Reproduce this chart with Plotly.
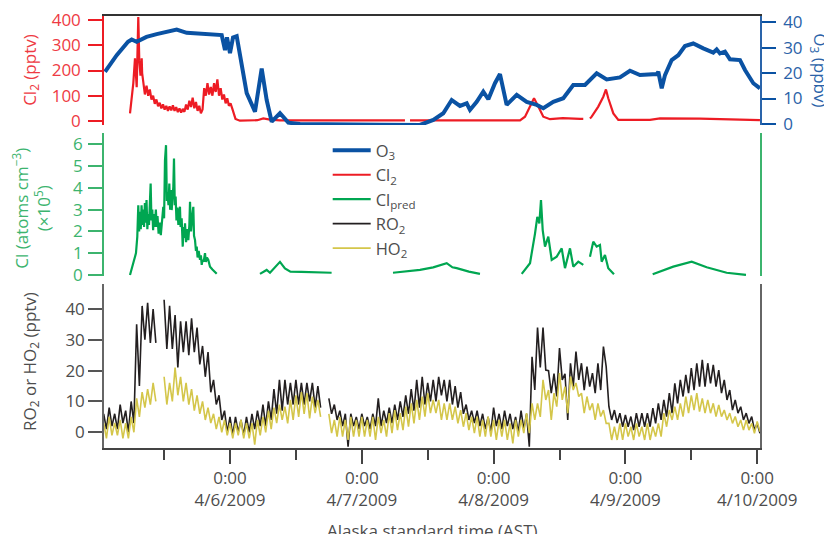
import pandas as pd
import plotly.graph_objects as go

# ---------------- data (hours since 2009-04-05 00:00 AST) ----------------
o3_h = [1.24, 3.37, 5.43, 6.10, 7.0, 8.8, 10.65, 14.29, 16.12, 18.54, 20.90, 22.49, 23.09, 23.45, 24.0,
        24.55, 25.22, 26.13, 27.04, 28.55, 29.77, 30.68, 31.59, 33.10, 34.62, 36.75, 42.21, 51.31, 58.60,
        61.02, 62.84, 64.37, 65.88, 67.10, 67.70, 68.92, 70.12, 71.04, 72.25, 73.16, 74.38, 76.21, 78.03,
        79.85, 81.05, 82.87, 84.69, 86.51, 88.64, 90.77, 92.59, 95.01, 96.83, 98.65, 101.70, 101.99,
        102.61, 103.21, 104.43, 105.63, 106.85, 108.36, 110.18, 112.00, 112.62, 113.22, 114.13, 115.04,
        116.87, 117.78, 119.29, 120.50]
o3_v = [20.5, 27, 32.3, 33.2, 32.3, 34.2, 35.3, 37.1, 35.8, 35.6, 35.3, 34.9, 29, 34, 27.8,
        34, 34.5, 22.5, 12.1, 4.8, 21.8, 9.4, 0.9, 4.2, 0.5, 0, -0.2, -0.3, -0.4,
        1.6, 4.2, 9.4, 7.1, 8.1, 5.5, 8.7, 12.7, 9.7, 16, 19.6, 7.5, 11.4, 8.7,
        7.5, 6.2, 8.7, 10.1, 15.3, 15.3, 19.9, 17.5, 18.3, 20.9, 19.2, 19.6, 20.5,
        14, 19.2, 25.1, 27, 30.6, 31.6, 29.7, 28, 29.3, 27.7, 28.4, 25.4,
        25.1, 21.2, 16, 14]

cl2_h = [5.79, 6.39, 6.70, 7.01, 7.30, 7.48, 7.7, 7.92, 8.0, 8.2, 8.5, 8.8, 9.1, 9.4, 9.7, 10.0, 10.3,
         10.6, 10.9, 11.2, 11.5, 11.8, 12.1, 12.4, 12.7, 13.0, 13.3, 13.6, 13.9, 14.2, 14.5, 14.8, 15.1,
         15.4, 15.7, 16.0, 16.3, 16.6, 16.9, 17.2, 17.5, 17.8, 18.1, 18.4, 18.7, 19.0, 19.3, 19.6, 19.9,
         20.2, 20.5, 20.8, 21.1, 21.4, 21.7, 22.0, 22.3, 22.6, 22.9, 23.2, 23.5, 23.8, 24.1, 24.4, 24.7,
         25.0, 25.8, 27.6, 29.0, 30.06, 31.28, 33.1, 40.0, 50.0, 55.86, 56.3, 56.78, 65.0, 70.0, 76.81,
         77.72, 78.63, 79.36, 80.14, 81.05, 82.27, 84.60, 87.73, 88.33, 89.0, 89.55, 89.86, 91.06, 91.98,
         92.46, 92.88, 93.80, 94.71, 100.48, 102.30, 109.58, 120.50]
cl2_v = [30, 149, 248, 134, 412, 241, 180, 248, 190, 162, 105, 140, 100, 125, 85, 100, 68,
         85, 58, 72, 50, 66, 45, 60, 40, 58, 42, 62, 40, 55, 35, 50, 33,
         48, 36, 65, 45, 80, 55, 92, 50, 75, 40, 60, 30, 45, 130, 100, 150,
         105, 135, 100, 150, 115, 165, 100, 130, 85, 105, 70, 90, 60, 70, 50, 25,
         8, 1, 1, 3, 10, 5, 2, 1, 2, 2, None, 2, 2, 3, 2,
         17, 57, 90, 57, 17, 7, 11, 8, 8, None, 10, 17, 57, 96,
         125, 90, 30, 4, 4, 10, 9, 3]

cl_h = [5.79, 6.39, 6.88, 7.12, 7.3, 7.45, 7.6, 7.75, 7.9, 8.05, 8.2, 8.35, 8.5, 8.65, 8.8, 8.95, 9.1,
        9.25, 9.4, 9.55, 9.7, 9.85, 10.0, 10.15, 10.3, 10.5, 10.65, 10.8, 11.0, 11.25, 11.4, 11.6, 11.85,
        12.0, 12.16, 12.35, 12.5, 12.6, 12.8, 12.95, 13.1, 13.25, 13.38, 13.55, 13.68, 13.80, 13.95,
        14.1, 14.25, 14.4, 14.6, 14.75, 14.89, 15.0, 15.2, 15.39, 15.55, 15.7, 15.81, 16.0, 16.2, 16.41,
        16.6, 16.72, 16.9, 17.1, 17.32, 17.45, 17.63, 17.8, 17.94, 18.1, 18.3, 18.54, 18.7, 18.85, 19.0,
        19.2, 19.45, 19.6, 19.8, 20.05, 20.2, 20.36, 20.8, 21.2, 21.58, 25.0, 29.46, 30.68, 31.28, 33.10,
        34.0, 35.0, 37.0, 40.0, 42.5, 45.0, 53.68, 56.0, 58.6, 61.0, 62.5, 63.46, 64.5, 65.28, 67.5,
        69.52, 73.0, 77.12, 78.63, 79.54, 79.96, 80.33, 80.63, 80.94, 81.36, 81.96, 82.58, 83.49, 84.40,
        85.00, 85.91, 86.51, 87.42, 88.33, 89.0, 89.55, 90.15, 90.77, 91.37, 91.68, 92.28, 92.88, 93.92,
        97.0, 100.97, 104.72, 108.07, 110.80, 114.44, 117.96]
cl_v = [0, 0.54, 1.0, 1.76, 3.2, 2.0, 2.9, 2.1, 3.2, 2.3, 3.0, 2.2, 3.3, 2.4, 3.44, 2.1, 2.8,
        2.3, 3.6, 4.2, 2.5, 3.0, 2.06, 2.8, 2.2, 3.0, 2.2, 2.7, 1.9, 2.4, 1.83, 2.6, 3.13,
        2.6, 5.27, 5.96, 3.4, 3.8, 3.2, 4.2, 3.0, 3.9, 2.98, 3.5, 4.05, 5.35, 3.2,
        3.6, 2.5, 3.1, 2.3, 2.9, 3.13, 2.2, 2.6, 1.3, 2.2, 1.7, 2.37, 1.5, 2.1, 1.6,
        2.3, 3.36, 2.0, 2.6, 3.13, 1.8, 1.6, 1.1, 1.3, 0.8, 1.1, 0.69, 0.9, 0.46, 0.7,
        0.6, 1.0, 0.6, 0.8, 0.69, 0.5, 0.38, 0.25, 0.12, 0.05, None, 0.05, 0.23, 0.1, 0.6,
        0.3, 0.15, 0.14, 0.12, 0.1, None, 0.1, 0.15, 0.23, 0.35, 0.45, 0.54, 0.35, 0.31, 0.15,
        0.05, None, 0.05, 0.54, 1.9, 2.67, 2.37, 3.44, 2.06, 1.3, 1.76, 0.69, 0.84, 1.22,
        0.31, 1.22, 0.38, 0.61, 0.46, None, 0.84, 1.53, 1.3, 1.38, 0.61, 0.92, 0.31, 0.03,
        None, 0.03, 0.38, 0.61, 0.35, 0.1, 0.0]

# RO2 / HO2: hourly read-off of the upper and lower edge of the noisy band (None = data gap)
band_h = list(range(1, 121))
ro2_hi = [6, 8, 6, 9, 7, 10, 35, 41, 42, 40, None, 43, 41, 38, 36, 36, 37, 34, 28, 26,
          17, 12, 7, 5, 5, 4, 5, 6, 7, 9, 10, 14, 17, 17, 16, 17, 16, 16, 16, 15,
          None, 11, 9, 7, 6, 6, 5, 6, 5, 6, 11, 7, 8, 9, 10, 12, 14, 17, 18, 16,
          17, 18, 17, 17, 15, 13, 9, 7, 7, 6, 5, 8, 6, 7, 6, 5, 7, 6, 24.5, 34,
          34, 20, 19, 27.3, 19, 22.4, 26.2, 22.4, 21.3, 19.2, 22.4, 27.8, 8.3, 7.2, 6.2, 5.6, 5.1, 6.2, 6.2, 6.2,
          7.8, 9.4, 10.5, 12.7, 15.9, 17, 18.6, 20.8, 22.4, 23.5, 22.4, 21.9, 20.2, 17, 13.7, 10.5, 8.3, 6.2, 5.1, 2.9]
ro2_lo = [1, 2, 1, 3, 0, 3, 15, 30, 29, 29, None, 27, 27, 21, 26, 25, 26, 22, 18, 13,
          9, 4, 0, -1, 0, -1, 0, 1, 2, 2, 4, 6, 7, 9, 9, 9, 9, 10, 8, 8,
          None, 6, 4, 2, -4.7, 2, 1, 2, 1, 2, 2, 3, 3, 4, 5, 6, 7, 8, 9, 10,
          10, 12, 10, 9, 8, 6, 4, 3, 2, 1, 0, 2, 1, 2, 1, 0, 1, -4.7, 13.7, 21,
          20.2, 12.7, 11.6, 17, 4, 14.8, 17, 13.7, 14.8, 12.7, 13.7, 21.3, 4, 3, 1.8, 1.8, 0.7, 1.8, 1.8, 1.8,
          2.9, 4, 5.1, 6.2, 9.4, 11.6, 12.7, 13.7, 14.8, 14.8, 15.9, 14.8, 12.7, 10.5, 7.2, 6.2, 4, 2.9, 0.7, -0.3]
ho2_hi = [3, 5, 3, 4, 3, 5, 11, 13, 14, 16, None, 18, 16, 21, 18, 16, 14, 12, 10, 8,
          6, 5, 4, 3, 3, 4, 3, 3, 4, 5, 7, 8, 9, 8.3, 10.5, 12, 13, 12.7, 11.6, 10.5,
          None, 6, 4, 5, 4, 5, 4, 5, 4, 5, 5, 4, 6.2, 7.2, 6.2, 8.3, 9.4, 10.5, 11.6, 12.7,
          10.5, 10.5, 9.4, 9.4, 8.3, 7.2, 6.2, 5.1, 5.1, 4, 5.1, 4, 4, 4, 2.9, 4, 4, 6.2, 9.4, 9.4,
          17, 13.7, 12.7, 19.2, 14.8, 18.1, 16, 12.7, 11.6, 9.4, 9.4, 7.2, 2.9, 1.8, 2.9, 2.9, 1.8, 2.9, 1.8, 2.9,
          1.8, 2.9, 6.2, 7.2, 8.3, 9.4, 11.6, 12, 12.7, 11, 10.5, 9.4, 8.9, 7.2, 6.2, 5.1, 4, 4, 2.9, 3.5]
ho2_lo = [-2, -1, -1, -2, -2, 0, 5, 8, 9, 10, None, 9, 10, 12, 10, 9, 7, 6, 4, 3,
          1, 0, -1, -2, -1, -2, -2, -4, -1, 0, 1, 3, 4, 2.9, 4, 5, 6, 4.5, 6.2, 5,
          None, -0.3, -1.4, -1.4, -2.5, -1.4, -1.4, -1.4, -1.4, -2.5, -0.3, -1.4, -0.3, 0.7, 0.7, 1.8, 2.9, 4, 5.1, 6.2,
          6.2, 4, 4, 4, 2.9, 1.8, 0.7, -0.3, -1.4, -1.4, -1.4, -2.5, -1.4, -2.5, -3.6, -1.4, -0.3, -0.3, 4, 5,
          10.5, 4, 8.3, 10.5, 6.2, 13.7, 11.6, 6.2, 7.2, 4, 5.1, 2.9, -2.5, -2.5, -2.5, -1.4, -2.5, -1.4, -2.5, -2.5,
          -1.4, -1.4, 1.8, 4, 4, 5.1, 6.2, 7.2, 6.7, 6.2, 6.2, 5.1, 5.1, 4, 2.9, 1.8, 0.7, 0.7, -0.3, 0.2]

day_ticks = ["2009-04-06", "2009-04-07", "2009-04-08", "2009-04-09", "2009-04-10"]
day_labels = ["0:00<br>4/6/2009", "0:00<br>4/7/2009", "0:00<br>4/8/2009", "0:00<br>4/9/2009", "0:00<br>4/10/2009"]
noon_ticks = ["2009-04-05 12:00", "2009-04-06 12:00", "2009-04-07 12:00", "2009-04-08 12:00", "2009-04-09 12:00"]

# ---------------- helpers ----------------
BASE = pd.Timestamp("2009-04-05 00:00")


def to_time(hours):
    return [BASE + pd.Timedelta(hours=h) for h in hours]


def band_series(hours, hi, lo):
    """Alternate between the read upper and lower edges of a noisy band."""
    t, v = [], []
    for h, u, l in zip(hours, hi, lo):
        t += [h, h + 0.5]
        v += [u, l]
    return to_time(t), v


RED, BLUE, GREEN, BLACK, YELLOW, GRAY = "#ed1c24", "#0a52a3", "#00a651", "#231f20", "#d4c64a", "#4d4d4d"
FONT = "Open Sans"

ro2_t, ro2_v = band_series(band_h, ro2_hi, ro2_lo)
ho2_t, ho2_v = band_series(band_h, ho2_hi, ho2_lo)

fig = go.Figure()
fig.add_trace(go.Scatter(x=to_time(cl2_h), y=cl2_v, mode="lines", name="Cl<sub>2</sub>", legendrank=2,
                         line=dict(color=RED, width=2.2), xaxis="x2", yaxis="y", connectgaps=False))
fig.add_trace(go.Scatter(x=to_time(o3_h), y=o3_v, mode="lines", name="O<sub>3</sub>", legendrank=1,
                         line=dict(color=BLUE, width=4), xaxis="x2", yaxis="y2", connectgaps=False))
fig.add_trace(go.Scatter(x=to_time(cl_h), y=cl_v, mode="lines", name="Cl<sub>pred</sub>", legendrank=3,
                         line=dict(color=GREEN, width=2.2), xaxis="x3", yaxis="y3", connectgaps=False))
fig.add_trace(go.Scatter(x=ro2_t, y=ro2_v, mode="lines", name="RO<sub>2</sub>", legendrank=4,
                         line=dict(color=BLACK, width=1.6), xaxis="x", yaxis="y4", connectgaps=False))
fig.add_trace(go.Scatter(x=ho2_t, y=ho2_v, mode="lines", name="HO<sub>2</sub>", legendrank=5,
                         line=dict(color=YELLOW, width=1.6), xaxis="x", yaxis="y4", connectgaps=False))

x_range = [BASE + pd.Timedelta(hours=1.056), BASE + pd.Timedelta(hours=120.51)]

common_y = dict(ticks="outside", ticklen=14, tickwidth=1.5, showline=True, linewidth=1.5,
                showgrid=False, zeroline=False, automargin=False, ticklabeloverflow="allow")

# the page places the figure 8px in from the window edge, so the figure is sized to fit the window
fig.update_layout(
    template="none",
    width=824, height=526,
    margin=dict(l=96, r=72, t=8, b=86, autoexpand=False),
    paper_bgcolor="white", plot_bgcolor="white",
    font=dict(family=FONT, color=GRAY, size=17),
    showlegend=True,
    legend=dict(x=0.341, y=0.729, xanchor="left", yanchor="top", bgcolor="rgba(0,0,0,0)",
                font=dict(size=16.5, color=GRAY, family=FONT), tracegroupgap=0, traceorder="normal",
                borderwidth=0, itemwidth=38),
    xaxis=dict(domain=[0, 1], anchor="y4", type="date", range=x_range, automargin=False,
               ticklabeloverflow="allow",
               tickmode="array", tickvals=day_ticks, ticktext=day_labels,
               ticks="outside", ticklen=14, tickwidth=1.5, tickcolor="#444",
               showline=True, linecolor="#444", linewidth=1.5, showgrid=False, zeroline=False,
               tickfont=dict(size=17, color=GRAY),
               minor=dict(tickmode="array", tickvals=noon_ticks, ticks="outside", ticklen=10,
                          tickwidth=1.5, tickcolor="#444", showgrid=False)),
    xaxis2=dict(matches="x", anchor="y", side="top", showline=True, linecolor="#333", linewidth=1.5,
                ticks="", showticklabels=False, showgrid=False, zeroline=False, automargin=False),
    xaxis3=dict(matches="x", anchor="y3", visible=False, automargin=False),
    yaxis=dict(domain=[0.7477, 1], anchor="x2", range=[-16, 416], tickvals=[0, 100, 200, 300, 400],
               tickcolor=RED, linecolor=RED, tickfont=dict(size=17, color="#ee3a43"),
               ticklabelstandoff=4, **common_y),
    yaxis2=dict(overlaying="y", side="right", anchor="x2", range=[-0.4, 42.4], tickvals=[0, 10, 20, 30, 40],
                tickcolor=BLUE, linecolor="#2a64aa", tickfont=dict(size=17, color="#2a62a8"),
                ticklabelstandoff=4, **common_y),
    yaxis3=dict(domain=[0.3981, 0.7292], anchor="x3", range=[-0.05, 6.52], tickvals=[0, 1, 2, 3, 4, 5, 6],
                tickcolor="#3cb46e", linecolor="#3cb46e", mirror=True, tickfont=dict(size=17, color="#3cb46e"),
                ticklabelstandoff=2, **common_y),
    yaxis4=dict(domain=[0, 0.3796], anchor="x", range=[-5.1, 48.1], tickvals=[0, 10, 20, 30, 40],
                tickcolor="#555", linecolor="#666", mirror=True, tickfont=dict(size=17, color=GRAY),
                ticklabelstandoff=0, **common_y),
)

ann = [
    dict(text="Cl<sub>2</sub> (pptv)", x=-0.113, y=0.875, textangle=-90, font=dict(size=17, color="#ee3a43")),
    dict(text="O<sub>3</sub> (ppbv)", x=1.091, y=0.875, textangle=90, font=dict(size=17, color="#2a62a8")),
    dict(text="Cl (atoms cm<sup>−3</sup>)<br>(×10<sup>5</sup>)", x=-0.110, y=0.556, textangle=-90,
         font=dict(size=17, color="#3cb46e")),
    dict(text="RO<sub>2</sub> or HO<sub>2</sub> (pptv)", x=-0.113, y=0.201, textangle=-90,
         font=dict(size=17, color=GRAY)),
    dict(text="Alaska standard time (AST)", x=0.5, y=-0.19, textangle=0, font=dict(size=17, color=GRAY)),
]
for a in ann:
    fig.add_annotation(xref="paper", yref="paper", showarrow=False, xanchor="center", yanchor="middle",
                       font_family=FONT, **a)

fig.write_html("out.html")
